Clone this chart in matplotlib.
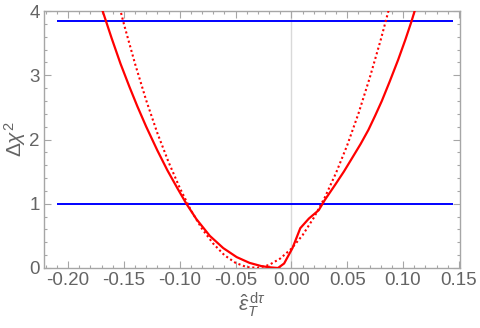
import matplotlib
matplotlib.use("Agg")
import matplotlib.pyplot as plt
from matplotlib.ticker import MultipleLocator, FormatStrFormatter

plt.rcParams['font.family'] = ['Liberation Sans', 'DejaVu Sans']
plt.rcParams['mathtext.fontset'] = 'custom'
plt.rcParams['mathtext.rm'] = 'Liberation Sans'
plt.rcParams['mathtext.it'] = 'Liberation Sans:italic'

# full fit (solid)
eps_full = [-0.172, -0.169, -0.161, -0.153, -0.145, -0.138, -0.130, -0.120,
            -0.111, -0.102, -0.094, -0.085, -0.073, -0.061, -0.049, -0.0375,
            -0.027, -0.020, -0.012, -0.0065, 0.001, 0.008, 0.0157, 0.0245,
            0.030, 0.039, 0.047, 0.054, 0.062, 0.069, 0.075, 0.081, 0.088,
            0.0956, 0.102, 0.1074, 0.1104, 0.113]
chi2_full = [4.16, 4.00, 3.58, 3.18, 2.82, 2.52, 2.20, 1.83,
             1.52, 1.24, 1.00, 0.76, 0.50, 0.31, 0.17, 0.08,
             0.03, 0.012, 0.0, 0.07, 0.31, 0.62, 0.77, 0.90,
             1.06, 1.29, 1.50, 1.70, 1.93, 2.15, 2.37, 2.60, 2.90,
             3.24, 3.55, 3.83, 4.00, 4.16]

# gaussian approximation (dotted)
eps_gauss = [-0.16, -0.15, -0.14, -0.13, -0.12, -0.11, -0.10, -0.09, -0.08,
             -0.07, -0.06, -0.05, -0.04, -0.03, -0.02, -0.01, 0.00, 0.01,
             0.02, 0.03, 0.04, 0.05, 0.06, 0.07, 0.08, 0.09]
chi2_gauss = [4.48, 3.80, 3.18, 2.61, 2.10, 1.65, 1.25, 0.90, 0.61,
              0.38, 0.20, 0.08, 0.014, 0.0025, 0.047, 0.147, 0.30, 0.51,
              0.78, 1.10, 1.48, 1.91, 2.40, 2.95, 3.55, 4.20]

# confidence levels
levels = [1.0, 3.84]
level_span = [-0.21, 0.145]

frame_col = '#a6a6a6'
text_col = '#646464'

fig = plt.figure(figsize=(4.8, 3.28), dpi=100)
ax = fig.add_axes([44 / 480, 60 / 328, 416 / 480, 257 / 328])

ax.axvline(0, color='#d9d9d9', lw=1.0, zorder=1)
for lv in levels:
    ax.hlines(lv, level_span[0], level_span[1], color='#0000ff', lw=1.4, zorder=2)
ax.plot(eps_full, chi2_full, color='#ff0000', lw=1.6, zorder=3)
ax.plot(eps_gauss, chi2_gauss, color='#ff0000', lw=1.5, ls=(0, (1, 1.3)), zorder=3)

ax.set_xlim(-0.2215, 0.151)
ax.set_ylim(0, 4)

ax.xaxis.set_major_locator(MultipleLocator(0.05))
ax.xaxis.set_minor_locator(MultipleLocator(0.01))
ax.xaxis.set_major_formatter(FormatStrFormatter('%.2f'))
ax.yaxis.set_major_locator(MultipleLocator(1))
ax.yaxis.set_minor_locator(MultipleLocator(0.2))

ax.tick_params(which='both', direction='in', top=True, right=True,
               color=frame_col, width=0.8, labelcolor=text_col,
               labelsize=13.5, pad=3)
ax.tick_params(which='major', length=5)
ax.tick_params(which='minor', length=2.5)
for sp in ax.spines.values():
    sp.set_color(frame_col)
    sp.set_linewidth(1.0)

ax.set_xlabel(r'$\hat{\varepsilon}_T^{\,\mathrm{d}\tau}$', color=text_col,
              fontsize=15, labelpad=1)
ax.set_ylabel(r'$\Delta\chi^2$', color=text_col, fontsize=15, labelpad=1)

fig.savefig('out.png', dpi=100)
